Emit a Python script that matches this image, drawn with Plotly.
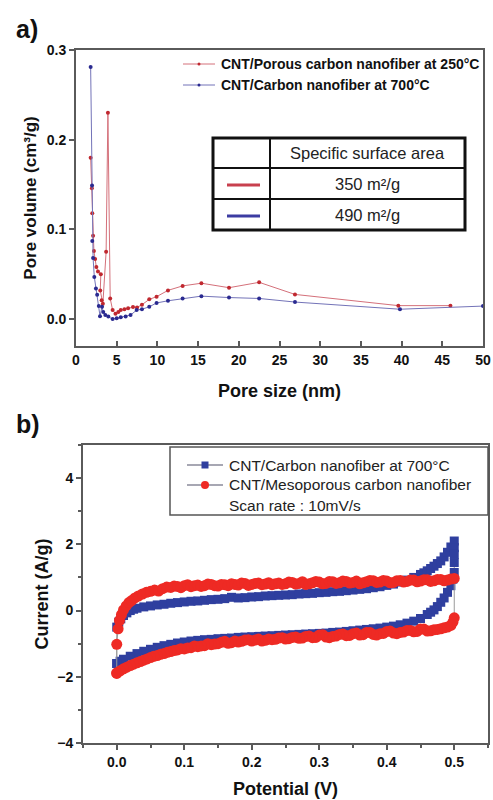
import plotly.graph_objects as go

# ---------------- (a) pore size distribution ----------------
pore_250_x = [1.80, 1.95, 2.00, 2.10, 2.20, 2.35, 2.50, 2.70, 3.05, 2.98, 3.15, 3.30,
              3.70, 3.92, 4.20, 4.50, 4.85, 5.20, 5.50, 5.95, 6.40, 7.00, 7.50, 8.10,
              9.00, 9.90, 11.3, 13.1, 15.4, 18.8, 22.5, 26.9, 39.6, 46.0]
pore_250_y = [0.180, 0.146, 0.118, 0.093, 0.076, 0.067, 0.058, 0.053, 0.050, 0.032,
              0.021, 0.017, 0.075, 0.230, 0.023, 0.010, 0.006, 0.008, 0.010, 0.011,
              0.012, 0.0135, 0.013, 0.016, 0.022, 0.025, 0.032, 0.037, 0.040, 0.035,
              0.041, 0.0275, 0.015, 0.015]

pore_700_x = [1.80, 1.97, 2.00, 2.10, 2.25, 2.45, 2.60, 2.80, 2.95, 3.20, 3.35, 3.60,
              3.97, 4.50, 5.00, 5.50, 6.10, 6.70, 7.45, 8.10, 9.00, 9.90, 11.3, 13.1,
              15.4, 18.8, 22.5, 26.9, 39.8, 50.0]
pore_700_y = [0.281, 0.149, 0.087, 0.068, 0.047, 0.034, 0.027, 0.0145, 0.0033, 0.0137,
              0.008, 0.0045, 0.003, 0.000, 0.001, 0.002, 0.003, 0.0045, 0.010, 0.011,
              0.0137, 0.018, 0.0204, 0.023, 0.0256, 0.024, 0.023, 0.019, 0.011, 0.0145]

series_a = ["CNT/Porous carbon nanofiber at 250°C", "CNT/Carbon nanofiber at 700°C"]
surface_area = ["350 m²/g", "490 m²/g"]

# ---------------- (b) cyclic voltammograms ----------------
cv_700_v = [0.000, 0.000, 0.003, 0.006, 0.010, 0.015, 0.020, 0.025, 0.030, 0.040,
            0.050, 0.060, 0.070, 0.080, 0.090, 0.100, 0.110, 0.120, 0.130, 0.140,
            0.150, 0.160, 0.170, 0.180, 0.190, 0.200, 0.210, 0.220, 0.230, 0.240,
            0.250, 0.260, 0.270, 0.280, 0.290, 0.300, 0.310, 0.320, 0.330, 0.340,
            0.350, 0.360, 0.370, 0.380, 0.390, 0.400, 0.410, 0.420, 0.430, 0.440,
            0.450, 0.455, 0.460, 0.465, 0.470, 0.475, 0.480, 0.485, 0.490, 0.495,
            0.500, 0.500, 0.500, 0.500, 0.500,
            0.498, 0.495, 0.490, 0.485, 0.480, 0.475, 0.470, 0.465, 0.460, 0.450,
            0.440, 0.430, 0.420, 0.410, 0.400, 0.390, 0.380, 0.370, 0.360, 0.350,
            0.340, 0.330, 0.320, 0.310, 0.300, 0.290, 0.280, 0.270, 0.260, 0.250,
            0.240, 0.230, 0.220, 0.210, 0.200, 0.190, 0.180, 0.170, 0.160, 0.150,
            0.140, 0.130, 0.120, 0.110, 0.100, 0.090, 0.080, 0.070, 0.060, 0.050,
            0.040, 0.030, 0.020, 0.010, 0.005, 0.000]
cv_700_i = [-1.60, -0.50, -0.35, -0.25, -0.15, -0.07, 0.00, 0.04, 0.07, 0.11,
            0.14, 0.17, 0.19, 0.22, 0.24, 0.26, 0.28, 0.29, 0.31, 0.33,
            0.34, 0.36, 0.40, 0.38, 0.39, 0.41, 0.42, 0.44, 0.45, 0.46,
            0.47, 0.48, 0.50, 0.51, 0.52, 0.54, 0.55, 0.57, 0.58, 0.60,
            0.62, 0.64, 0.66, 0.69, 0.72, 0.76, 0.80, 0.86, 0.92, 1.00,
            1.09, 1.14, 1.20, 1.27, 1.34, 1.42, 1.50, 1.62, 1.76, 1.92,
            2.10, 1.90, 1.70, 1.45, 1.15,
            0.95, 0.75, 0.55, 0.38, 0.25, 0.12, 0.02, -0.05, -0.12, -0.24,
            -0.32, -0.38, -0.43, -0.47, -0.50, -0.53, -0.55, -0.57, -0.59, -0.61,
            -0.63, -0.65, -0.66, -0.68, -0.69, -0.70, -0.71, -0.72, -0.73, -0.74,
            -0.75, -0.76, -0.77, -0.78, -0.79, -0.80, -0.81, -0.83, -0.84, -0.85,
            -0.87, -0.88, -0.90, -0.92, -0.95, -0.98, -1.02, -1.06, -1.11, -1.17,
            -1.23, -1.30, -1.38, -1.47, -1.53, -1.60]

cv_meso_v = [0.000, 0.000, 0.002, 0.004, 0.007, 0.010, 0.014, 0.018, 0.022, 0.027,
             0.032, 0.038, 0.044, 0.050, 0.056, 0.062, 0.068, 0.074,
             0.080, 0.085, 0.090, 0.095, 0.100, 0.105, 0.110, 0.115, 0.120, 0.125,
             0.130, 0.135, 0.140, 0.145, 0.150, 0.155, 0.160, 0.165, 0.170, 0.175,
             0.180, 0.185, 0.190, 0.195, 0.200, 0.205, 0.210, 0.215, 0.220, 0.225,
             0.230, 0.235, 0.240, 0.245, 0.250, 0.255, 0.260, 0.265, 0.270, 0.275,
             0.280, 0.285, 0.290, 0.295, 0.300, 0.305, 0.310, 0.315, 0.320, 0.325,
             0.330, 0.335, 0.340, 0.345, 0.350, 0.355, 0.360, 0.365, 0.370, 0.375,
             0.380, 0.385, 0.390, 0.395, 0.400, 0.405, 0.410, 0.415, 0.420, 0.425,
             0.430, 0.435, 0.440, 0.445, 0.450, 0.455, 0.460, 0.465, 0.470, 0.475,
             0.480, 0.485, 0.490, 0.495, 0.500,
             0.500, 0.498, 0.495, 0.490, 0.485, 0.480, 0.475, 0.470, 0.465, 0.460,
             0.455, 0.450, 0.445, 0.440, 0.435, 0.430, 0.425, 0.420, 0.415, 0.410,
             0.405, 0.400, 0.395, 0.390, 0.385, 0.380, 0.375, 0.370, 0.365, 0.360,
             0.355, 0.350, 0.345, 0.340, 0.335, 0.330, 0.325, 0.320, 0.315, 0.310,
             0.305, 0.300, 0.295, 0.290, 0.285, 0.280, 0.275, 0.270, 0.265, 0.260,
             0.255, 0.250, 0.245, 0.240, 0.235, 0.230, 0.225, 0.220, 0.215, 0.210,
             0.205, 0.200, 0.195, 0.190, 0.185, 0.180, 0.175, 0.170, 0.165, 0.160,
             0.155, 0.150, 0.145, 0.140, 0.135, 0.130, 0.125, 0.120, 0.115, 0.110,
             0.105, 0.100, 0.095, 0.090, 0.085, 0.080, 0.075, 0.070, 0.065, 0.060,
             0.055, 0.050, 0.045, 0.040, 0.035, 0.030, 0.025, 0.020, 0.015, 0.010,
             0.005, 0.000]
cv_meso_i = [-1.90, -1.02, -0.55, -0.30, -0.12, 0.02, 0.14, 0.24, 0.30, 0.38,
             0.44, 0.50, 0.55, 0.58, 0.62, 0.59, 0.66, 0.71,
             0.70, 0.74, 0.73, 0.69, 0.75, 0.78, 0.72, 0.75, 0.77, 0.73,
             0.75, 0.80, 0.79, 0.75, 0.74, 0.79, 0.78, 0.75, 0.81, 0.79,
             0.77, 0.83, 0.82, 0.76, 0.79, 0.82, 0.83, 0.78, 0.80, 0.84,
             0.78, 0.81, 0.83, 0.79, 0.81, 0.86, 0.85, 0.80, 0.82, 0.87,
             0.79, 0.81, 0.84, 0.88, 0.86, 0.81, 0.82, 0.88, 0.87, 0.82,
             0.84, 0.89, 0.88, 0.83, 0.85, 0.89, 0.81, 0.84, 0.87, 0.91,
             0.90, 0.85, 0.86, 0.91, 0.89, 0.84, 0.85, 0.90, 0.91, 0.86,
             0.88, 0.92, 0.92, 0.87, 0.89, 0.93, 0.93, 0.88, 0.90, 0.94,
             0.94, 0.90, 0.92, 0.95, 0.97,
             -0.22, -0.35, -0.45, -0.50, -0.52, -0.55, -0.57, -0.58, -0.61, -0.62,
             -0.56, -0.56, -0.63, -0.64, -0.60, -0.60, -0.65, -0.66, -0.70, -0.68,
             -0.62, -0.63, -0.69, -0.70, -0.74, -0.72, -0.66, -0.66, -0.73, -0.74,
             -0.68, -0.70, -0.75, -0.76, -0.71, -0.72, -0.77, -0.78, -0.82, -0.80,
             -0.73, -0.74, -0.81, -0.82, -0.77, -0.78, -0.83, -0.84, -0.80, -0.81,
             -0.85, -0.86, -0.82, -0.83, -0.87, -0.88, -0.86, -0.90, -0.92, -0.86,
             -0.89, -0.92, -0.88, -0.89, -0.93, -0.95, -0.92, -0.97, -0.99, -0.93,
             -0.96, -1.00, -1.01, -1.03, -1.00, -1.06, -1.07, -1.09, -1.07, -1.12,
             -1.13, -1.16, -1.15, -1.19, -1.21, -1.24, -1.26, -1.30, -1.32, -1.36,
             -1.38, -1.42, -1.46, -1.50, -1.54, -1.58, -1.62, -1.66, -1.71, -1.76,
             -1.82, -1.88]

series_b = ["CNT/Carbon nanofiber at 700°C", "CNT/Mesoporous carbon nanofiber"]
scan_note = "Scan rate : 10mV/s"

# ---------------- styling ----------------
W, H = 493, 800
FONT = "Arial, 'Liberation Sans', Helvetica, sans-serif"
RED_LINE, RED_MARK = "#d4707a", "#c0282f"
BLUE_LINE, BLUE_MARK = "#7373b8", "#2a2a90"
CV_BLUE, CV_RED = "#2f3f9f", "#ee2a24"
AXIS_GREY = "#5a5a5a"


def px(x):
    return x / W


def py(y):
    return 1 - y / H


fig = go.Figure()

fig.add_trace(go.Scatter(x=pore_250_x, y=pore_250_y, mode="lines+markers", name=series_a[0],
                         line=dict(color=RED_LINE, width=1),
                         marker=dict(color=RED_MARK, size=4), xaxis="x", yaxis="y",
                         showlegend=False))
fig.add_trace(go.Scatter(x=pore_700_x, y=pore_700_y, mode="lines+markers", name=series_a[1],
                         line=dict(color=BLUE_LINE, width=1),
                         marker=dict(color=BLUE_MARK, size=4), xaxis="x", yaxis="y",
                         showlegend=False))

fig.add_trace(go.Scatter(x=cv_700_v, y=cv_700_i, mode="lines+markers", name=series_b[0],
                         line=dict(color="#9a9a9a", width=1),
                         marker=dict(color=CV_BLUE, size=9, symbol="square"),
                         xaxis="x2", yaxis="y2", showlegend=False))
fig.add_trace(go.Scatter(x=cv_meso_v, y=cv_meso_i, mode="lines+markers", name=series_b[1],
                         line=dict(color="#9a9a9a", width=1),
                         marker=dict(color=CV_RED, size=11, symbol="circle"),
                         xaxis="x2", yaxis="y2", showlegend=False))

tickfont = dict(family=FONT, size=14, color="#111111", weight="bold")
titlefont = dict(family=FONT, size=18, color="#111111", weight="bold")
common = dict(showline=True, mirror=True, linecolor=AXIS_GREY, linewidth=2,
              showgrid=False, zeroline=False, tickfont=tickfont, tickcolor=AXIS_GREY,
              ticklen=5, tickwidth=1.5, automargin=False)

fig.update_layout(
    width=W, height=H, autosize=False,
    margin=dict(l=0, r=0, t=0, b=0, pad=0, autoexpand=False),
    paper_bgcolor="white", plot_bgcolor="white",
    showlegend=False,
    xaxis=dict(domain=[px(76), px(483)], anchor="y", range=[0, 50], dtick=5,
               ticks="inside",
               title=dict(text="Pore size (nm)", font=titlefont, standoff=18), **common),
    yaxis=dict(domain=[py(346), py(50)], anchor="x", range=[-0.03, 0.3], dtick=0.1,
               tick0=0, tickformat=".1f", ticks="outside",
               title=dict(text="Pore volume (cm³/g)",
                          font=dict(family=FONT, size=17, color="#111111", weight="bold"),
                          standoff=6),
               **common),
    xaxis2=dict(domain=[px(83), px(488)], anchor="y2", range=[-0.05, 0.55], dtick=0.1,
                tick0=0, tickformat=".1f", ticks="outside",
                minor=dict(dtick=0.05, ticks="outside", ticklen=3, tickcolor=AXIS_GREY),
                title=dict(text="Potential (V)", font=titlefont, standoff=14), **common),
    yaxis2=dict(domain=[py(743), py(445)], anchor="x2", range=[-4, 5], dtick=2, tick0=0,
                ticks="outside",
                minor=dict(dtick=1, ticks="outside", ticklen=3, tickcolor=AXIS_GREY),
                title=dict(text="Current (A/g)", font=titlefont, standoff=4), **common),
)

shapes = []
annots = []

# panel letters
letterfont = dict(family=FONT, size=25, color="#111111", weight="bold")
annots.append(dict(x=px(14), y=py(29), xref="paper", yref="paper", text="a)",
                   showarrow=False, xanchor="left", yanchor="middle", font=letterfont))
annots.append(dict(x=px(14), y=py(424), xref="paper", yref="paper", text="b)",
                   showarrow=False, xanchor="left", yanchor="middle", font=letterfont))

# legend for (a)
for k, (yy, lc, mc) in enumerate([(64, RED_LINE, RED_MARK), (85, BLUE_LINE, BLUE_MARK)]):
    shapes.append(dict(type="line", xref="paper", yref="paper", x0=px(183), x1=px(215),
                       y0=py(yy), y1=py(yy), line=dict(color=lc, width=1)))
    shapes.append(dict(type="circle", xref="paper", yref="paper", x0=px(197.5), x1=px(200.5),
                       y0=py(yy + 1.5), y1=py(yy - 1.5), fillcolor=mc, line=dict(width=0)))
    annots.append(dict(x=px(219), y=py(yy), xref="paper", yref="paper",
                       text=series_a[k], showarrow=False,
                       xanchor="left", yanchor="middle",
                       font=dict(family=FONT, size=14, color="#111111", weight="bold")))

# surface-area table for (a)
tx0, tx1, tcol = 213, 465, 270
trows = [138, 168, 199, 230]
shapes.append(dict(type="rect", xref="paper", yref="paper", x0=px(tx0), x1=px(tx1),
                   y0=py(trows[3]), y1=py(trows[0]), line=dict(color="#111111", width=3)))
for r in trows[1:3]:
    shapes.append(dict(type="line", xref="paper", yref="paper", x0=px(tx0), x1=px(tx1),
                       y0=py(r), y1=py(r), line=dict(color="#111111", width=2)))
shapes.append(dict(type="line", xref="paper", yref="paper", x0=px(tcol), x1=px(tcol),
                   y0=py(trows[3]), y1=py(trows[0]), line=dict(color="#111111", width=2)))
tablefont = dict(family=FONT, size=16.5, color="#222222")
annots.append(dict(x=px((tcol + tx1) / 2), y=py(153), xref="paper", yref="paper",
                   text="Specific surface area", showarrow=False, font=tablefont,
                   xanchor="center", yanchor="middle"))
for k, (yy, col) in enumerate([(184, "#c8404e"), (215, "#3c3ca2")]):
    shapes.append(dict(type="line", xref="paper", yref="paper", x0=px(227), x1=px(260),
                       y0=py(yy + 1), y1=py(yy + 1), line=dict(color=col, width=3)))
    annots.append(dict(x=px((tcol + tx1) / 2), y=py(yy), xref="paper", yref="paper",
                       text=surface_area[k], showarrow=False, font=tablefont,
                       xanchor="center", yanchor="middle"))

# legend for (b)
shapes.append(dict(type="rect", xref="paper", yref="paper", x0=px(170), x1=px(488),
                   y0=py(515), y1=py(447), line=dict(color="#555555", width=1.5),
                   fillcolor="white", layer="above"))
legfont = dict(family=FONT, size=15.5, color="#222222")
for k, (yy, mc, sym) in enumerate([(465, CV_BLUE, "rect"), (485, CV_RED, "circle")]):
    shapes.append(dict(type="line", xref="paper", yref="paper", x0=px(187), x1=px(223),
                       y0=py(yy), y1=py(yy), line=dict(color="#8a8a9a", width=1.5)))
    h = 3.5 if sym == "rect" else 4
    shapes.append(dict(type=sym, xref="paper", yref="paper", x0=px(205 - h), x1=px(205 + h),
                       y0=py(yy + h), y1=py(yy - h), fillcolor=mc, line=dict(width=0)))
    annots.append(dict(x=px(227), y=py(yy), xref="paper", yref="paper", text=series_b[k],
                       showarrow=False, xanchor="left", yanchor="middle", font=legfont))
annots.append(dict(x=px(227), y=py(505), xref="paper", yref="paper", text=scan_note,
                   showarrow=False, xanchor="left", yanchor="middle", font=legfont))

fig.update_layout(shapes=shapes, annotations=annots)
fig.write_html("out.html")
